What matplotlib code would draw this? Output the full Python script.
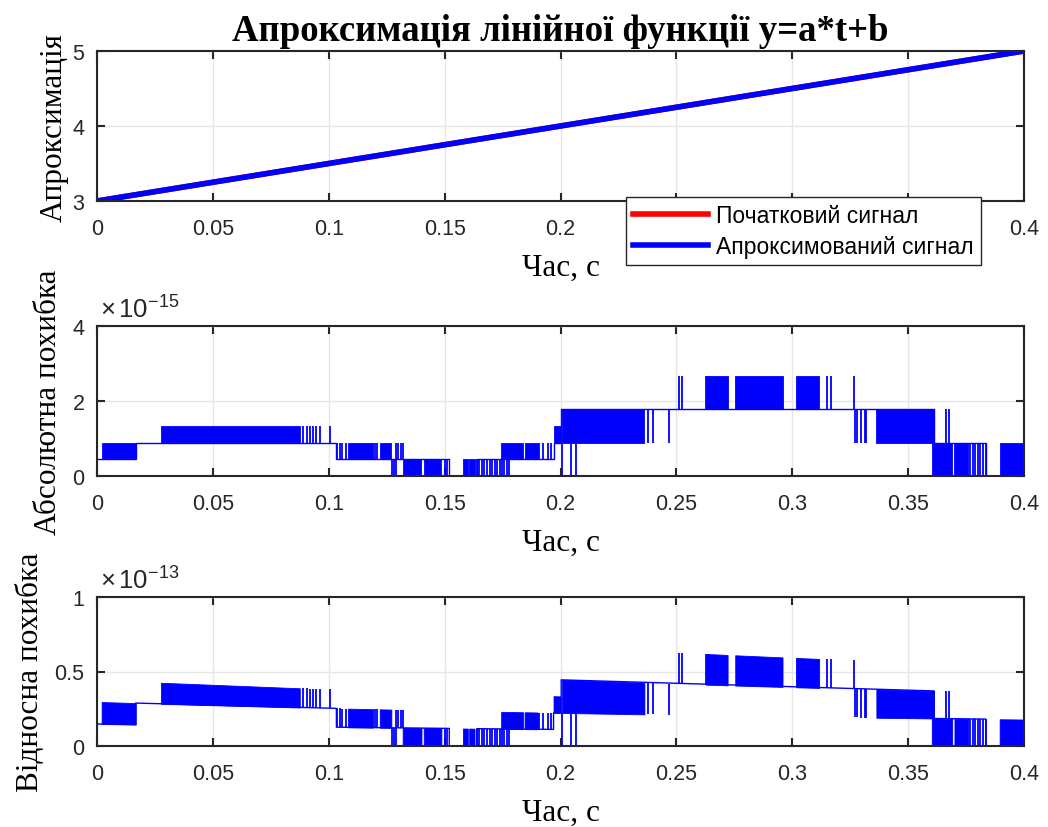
import numpy as np
import matplotlib
matplotlib.use("Agg")
import matplotlib.pyplot as plt

plt.rcParams['font.family'] = ['Liberation Sans', 'DejaVu Sans']
plt.rcParams['mathtext.fontset'] = 'custom'
plt.rcParams['mathtext.rm'] = 'Liberation Sans'
plt.rcParams['mathtext.it'] = 'Liberation Sans'

# model y = a*t + b
a = 5.0
b = 3.0
t_line = [0.0, 0.4]
q = 2.0 ** -51   # one rounding step of the error (about 4.44e-16)

# baseline of the absolute error: (start, end, level in steps q)
base_seg = [
    (0.0000, 0.0167, 1), (0.0167, 0.1033, 2), (0.1033, 0.1520, 1),
    (0.1520, 0.1639, 0), (0.1639, 0.1970, 1), (0.1970, 0.2003, 2),
    (0.2003, 0.3612, 4), (0.3612, 0.3835, 2), (0.3835, 0.4000, 0),
]

# dense bursts: (start, end, low level, high level)
bursts = [
    (0.0020, 0.0167, 1, 2), (0.0276, 0.0875, 2, 3),
    (0.1083, 0.1191, 1, 2), (0.1220, 0.1270, 1, 2),
    (0.1319, 0.1400, 0, 1), (0.1410, 0.1486, 0, 1),
    (0.1579, 0.1600, 0, 1), (0.1606, 0.1629, 0, 1),
    (0.1744, 0.1838, 1, 2), (0.1845, 0.1902, 1, 2),
    (0.1970, 0.2000, 2, 3), (0.2007, 0.2362, 2, 4),
    (0.2627, 0.2721, 4, 6), (0.2754, 0.2958, 4, 6), (0.3016, 0.3116, 4, 6),
    (0.3363, 0.3612, 2, 4),
    (0.3602, 0.3690, 0, 2), (0.3700, 0.3760, 0, 2),
    (0.3895, 0.4000, 0, 2),
]

# single spikes: (time, low level, high level)
spikes = [
    (0.0889, 2, 3), (0.0904, 2, 3), (0.0918, 2, 3), (0.0930, 2, 3),
    (0.0944, 2, 3), (0.0961, 2, 3), (0.1004, 2, 3),
    (0.1036, 1, 2), (0.1047, 1, 2), (0.1059, 1, 2), (0.1073, 1, 2),
    (0.1198, 1, 2), (0.1208, 1, 2), (0.1290, 1, 2), (0.1300, 1, 2),
    (0.1310, 1, 2), (0.1322, 1, 2),
    (0.1272, 0, 1), (0.1282, 0, 1), (0.1290, 0, 1),
    (0.1500, 0, 1), (0.1512, 0, 1),
    (0.1639, 0, 1), (0.1650, 0, 1), (0.1660, 0, 1), (0.1672, 0, 1),
    (0.1682, 0, 1), (0.1694, 0, 1), (0.1705, 0, 1), (0.1717, 0, 1),
    (0.1727, 0, 1), (0.1737, 0, 1),
    (0.1748, 0, 1), (0.1758, 0, 1), (0.1770, 0, 1), (0.1778, 0, 1),
    (0.1908, 1, 2), (0.1925, 1, 2), (0.1945, 1, 2), (0.1960, 1, 2),
    (0.2007, 0, 2), (0.2046, 0, 2), (0.2068, 0, 2),
    (0.2376, 2, 4), (0.2398, 2, 4), (0.2470, 2, 4),
    (0.2510, 4, 6), (0.2525, 4, 6), (0.2627, 4, 6), (0.2640, 4, 6),
    (0.3148, 4, 6), (0.3166, 4, 6), (0.3267, 4, 6),
    (0.3270, 2, 4), (0.3280, 2, 4), (0.3295, 2, 4), (0.3312, 2, 4),
    (0.3320, 2, 4), (0.3662, 2, 4), (0.3675, 2, 4),
    (0.3768, 0, 2), (0.3780, 0, 2), (0.3790, 0, 2), (0.3800, 0, 2),
    (0.3812, 0, 2), (0.3825, 0, 2), (0.3835, 0, 2),
]

xticks = [0, 0.05, 0.1, 0.15, 0.2, 0.25, 0.3, 0.35, 0.4]
xticklabels = ['0', '0.05', '0.1', '0.15', '0.2', '0.25', '0.3', '0.35', '0.4']


def abs_err(t, lvl):
    return lvl * q / 1e-15


def rel_err(t, lvl):
    return lvl * q / (a * t + b) * 100 / 1e-13


def style(ax, ylim, yticks, yticklabels):
    ax.set_xlim(0, 0.4)
    ax.set_ylim(*ylim)
    ax.set_xticks(xticks)
    ax.set_xticklabels(xticklabels)
    ax.set_yticks(yticks)
    ax.set_yticklabels(yticklabels)
    ax.grid(True, color='#e6e6e6', linewidth=1.0)
    ax.set_axisbelow(True)
    for s in ax.spines.values():
        s.set_color('#262626')
        s.set_linewidth(1.5)
    ax.tick_params(direction='in', length=6, width=1.5, color='#262626',
                   labelsize=15.5, top=True, right=True, labelcolor='#262626')
    ax.tick_params(axis='x', pad=12)
    ax.tick_params(axis='y', pad=9)
    ax.set_xlabel('Час, с', family='Liberation Serif', fontsize=22.5, labelpad=10)


def err_plot(ax, func):
    xs, ys = [], []
    for t0, t1, lvl in base_seg:
        xs += [t0, t1]
        ys += [func(t0, lvl), func(t1, lvl)]
    for t0, t1, lo, hi in bursts:
        x = np.array([t0, t1])
        ax.fill_between(x, [func(t0, lo), func(t1, lo)], [func(t0, hi), func(t1, hi)],
                        color='blue', linewidth=0.6)
    for t, lo, hi in spikes:
        ax.vlines(t, func(t, lo), func(t, hi), color='blue', linewidth=1.3)
    ax.plot(xs, ys, color='blue', linewidth=1.0)


fig = plt.figure(figsize=(10.48, 8.28), dpi=100)
L, W = 97 / 1048, 927 / 1048
ax1 = fig.add_axes([L, 1 - 202 / 828, W, 150 / 828])
ax2 = fig.add_axes([L, 1 - 477 / 828, W, 150 / 828])
ax3 = fig.add_axes([L, 1 - 747 / 828, W, 149 / 828])

y_line = [a * t + b for t in t_line]
ax1.plot(t_line, y_line, color='red', linewidth=4, label='Початковий сигнал')
ax1.plot(t_line, y_line, color='blue', linewidth=4, label='Апроксимований сигнал')
style(ax1, (3, 5), [3, 4, 5], ['3', '4', '5'])
ax1.set_ylabel('Апроксимація', family='Liberation Serif', fontsize=22.5, labelpad=3)
ax1.set_title('Апроксимація лінійної функції y=a*t+b', family='Liberation Serif',
              fontweight='bold', fontsize=26.5, pad=8)
leg = ax1.legend(loc='lower right', bbox_to_anchor=(981 / 1048, 1 - 266 / 828),
                 bbox_transform=fig.transFigure, borderaxespad=0, fontsize=16.5,
                 fancybox=False, framealpha=1, edgecolor='#262626',
                 handlelength=3.3, handletextpad=0.35, borderpad=0.3,
                 labelspacing=0.35)
leg.get_frame().set_linewidth(1.0)

err_plot(ax2, abs_err)
style(ax2, (0, 4), [0, 2, 4], ['0', '2', '4'])
ax2.set_ylabel('Абсолютна похибка', family='Liberation Serif', fontsize=22.5, labelpad=7)
ax2.text(0.003, 1.02, r'$\times\,10^{-15}$', transform=ax2.transAxes,
         fontsize=18.5, color='#262626', va='bottom', ha='left')

err_plot(ax3, rel_err)
style(ax3, (0, 1), [0, 0.5, 1], ['0', '0.5', '1'])
ax3.set_ylabel('Відносна похибка', family='Liberation Serif', fontsize=22.5, labelpad=7)
ax3.text(0.003, 1.02, r'$\times\,10^{-13}$', transform=ax3.transAxes,
         fontsize=18.5, color='#262626', va='bottom', ha='left')

fig.savefig('out.png', dpi=100)
